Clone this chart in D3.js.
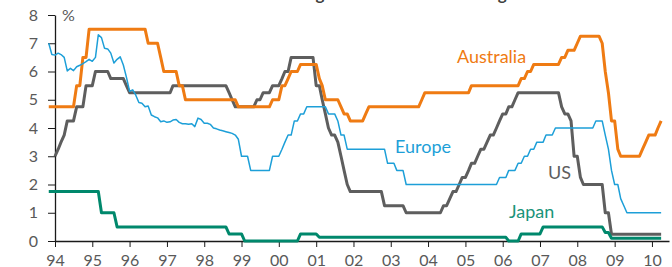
<!DOCTYPE html>
<meta charset="utf-8">
<style>
  body { margin: 0; background: #fff; }
  svg { display: block; }
  text { font-family: Lato, "Noto Sans", sans-serif; }
  .axis path, .axis line { stroke: #1a1a1a; }
  .axis text { fill: #595959; font-size: 16px; font-family: Lato, "Noto Sans", sans-serif; }
  .series { fill: none; stroke-linejoin: round; }
</style>
<script src="https://d3js.org/d3.v7.min.js"></script>
<svg width="672" height="267"></svg>
<script>
  // change points: [month, value] - value holds until the next entry
  var us = [
    ["1994-01", 3.0], ["1994-02", 3.25], ["1994-03", 3.5], ["1994-04", 3.75], ["1994-05", 4.25],
    ["1994-08", 4.75], ["1994-11", 5.5], ["1995-02", 6.0], ["1995-07", 5.75], ["1995-12", 5.5],
    ["1996-01", 5.25], ["1997-03", 5.5], ["1998-09", 5.25], ["1998-10", 5.0], ["1998-11", 4.75],
    ["1999-06", 5.0], ["1999-08", 5.25], ["1999-11", 5.5], ["2000-02", 5.75], ["2000-03", 6.0],
    ["2000-05", 6.5], ["2001-01", 5.5], ["2001-03", 5.0], ["2001-04", 4.5], ["2001-05", 4.0],
    ["2001-06", 3.75], ["2001-08", 3.5], ["2001-09", 3.0], ["2001-10", 2.5], ["2001-11", 2.0],
    ["2001-12", 1.75], ["2002-11", 1.25], ["2003-06", 1.0], ["2004-06", 1.25], ["2004-08", 1.5],
    ["2004-09", 1.75], ["2004-11", 2.0], ["2004-12", 2.25], ["2005-02", 2.5], ["2005-03", 2.75],
    ["2005-05", 3.0], ["2005-06", 3.25], ["2005-08", 3.5], ["2005-09", 3.75], ["2005-11", 4.0],
    ["2005-12", 4.25], ["2006-01", 4.5], ["2006-03", 4.75], ["2006-05", 5.0], ["2006-06", 5.25],
    ["2007-08", 4.75], ["2007-09", 4.5], ["2007-11", 4.25], ["2007-12", 3.0], ["2008-02", 2.25],
    ["2008-03", 2.0], ["2008-10", 1.0], ["2008-12", 0.24]
  ];

  var australia = [
    ["1993-11", 4.75], ["1994-08", 5.5], ["1994-10", 6.5], ["1994-12", 7.5], ["1996-07", 7.0],
    ["1996-11", 6.5], ["1996-12", 6.0], ["1997-05", 5.5], ["1997-07", 5.0], ["1998-12", 4.75],
    ["1999-11", 5.0], ["2000-02", 5.5], ["2000-04", 5.75], ["2000-05", 6.0], ["2000-08", 6.25],
    ["2001-02", 5.75], ["2001-03", 5.5], ["2001-04", 5.0], ["2001-09", 4.75], ["2001-10", 4.5],
    ["2001-12", 4.25], ["2002-05", 4.5], ["2002-06", 4.75], ["2003-11", 5.0], ["2003-12", 5.25],
    ["2005-03", 5.5], ["2006-07", 5.75], ["2006-09", 6.0], ["2006-11", 6.25], ["2007-08", 6.5],
    ["2007-10", 6.75], ["2008-01", 7.0], ["2008-02", 7.25], ["2008-09", 7.0], ["2008-10", 6.0],
    ["2008-11", 5.25], ["2008-12", 4.25], ["2009-02", 3.25], ["2009-03", 3.0], ["2009-10", 3.25],
    ["2009-11", 3.5], ["2009-12", 3.75], ["2010-03", 4.0], ["2010-04", 4.25]
  ];

  var europe = [
    ["1993-11", 7.0], ["1993-12", 6.6], ["1994-01", 6.58], ["1994-02", 6.65], ["1994-03", 6.6],
    ["1994-04", 6.5], ["1994-05", 6.02], ["1994-06", 6.11], ["1994-07", 6.03], ["1994-08", 6.17],
    ["1994-09", 6.22], ["1994-10", 6.28], ["1994-11", 6.35], ["1994-12", 6.43], ["1995-01", 6.36],
    ["1995-02", 6.5], ["1995-03", 7.3], ["1995-04", 7.2], ["1995-05", 6.82], ["1995-06", 6.8],
    ["1995-07", 6.65], ["1995-08", 6.3], ["1995-09", 6.43], ["1995-10", 6.52], ["1995-11", 6.23],
    ["1995-12", 5.8], ["1996-01", 5.3], ["1996-02", 5.35], ["1996-03", 5.17], ["1996-04", 4.9],
    ["1996-05", 4.88], ["1996-06", 4.75], ["1996-07", 4.78], ["1996-08", 4.46], ["1996-09", 4.4],
    ["1996-10", 4.36], ["1996-11", 4.22], ["1996-12", 4.25], ["1997-01", 4.2], ["1997-02", 4.22],
    ["1997-03", 4.28], ["1997-04", 4.3], ["1997-05", 4.2], ["1997-06", 4.15], ["1997-07", 4.15],
    ["1997-08", 4.13], ["1997-09", 4.15], ["1997-10", 4.05], ["1997-11", 4.35], ["1997-12", 4.3],
    ["1998-01", 4.17], ["1998-02", 4.17], ["1998-03", 4.13], ["1998-04", 4.0], ["1998-05", 3.97],
    ["1998-06", 3.93], ["1998-07", 3.9], ["1998-08", 3.87], ["1998-09", 3.84], ["1998-10", 3.81],
    ["1998-11", 3.75], ["1998-12", 3.6], ["1999-01", 3.0], ["1999-04", 2.5], ["1999-11", 3.0],
    ["2000-02", 3.25], ["2000-03", 3.5], ["2000-04", 3.75], ["2000-06", 4.25], ["2000-08", 4.5],
    ["2000-10", 4.75], ["2001-05", 4.5], ["2001-08", 4.25], ["2001-09", 3.75], ["2001-11", 3.25],
    ["2002-12", 2.75], ["2003-03", 2.5], ["2003-06", 2.0], ["2005-12", 2.25], ["2006-03", 2.5],
    ["2006-06", 2.75], ["2006-08", 3.0], ["2006-10", 3.25], ["2006-12", 3.5], ["2007-03", 3.75],
    ["2007-06", 4.0], ["2008-07", 4.25], ["2008-10", 3.75], ["2008-11", 3.25], ["2008-12", 2.5],
    ["2009-01", 2.0], ["2009-03", 1.5], ["2009-04", 1.25], ["2009-05", 1.0]
  ];

  var japan = [
    ["1993-11", 1.75], ["1995-04", 1.0], ["1995-09", 0.5], ["1998-09", 0.25], ["1999-02", 0.0],
    ["2000-08", 0.25], ["2001-02", 0.13], ["2006-03", 0.0], ["2006-07", 0.25], ["2007-02", 0.5],
    ["2008-10", 0.3], ["2008-12", 0.1]
  ];

  var lastMonth = "2010-04";
  var yTicks = [0, 1, 2, 3, 4, 5, 6, 7, 8];

  var series = [
    { name: "US", data: us, color: "#5e5e5e", width: 3 },
    { name: "Japan", data: japan, color: "#00886c", width: 3 },
    { name: "Australia", data: australia, color: "#ef7b13", width: 3 },
    { name: "Europe", data: europe, color: "#1d9fd8", width: 1.5 }
  ];

  var parse = d3.timeParse("%Y-%m");
  var svg = d3.select("svg");

  var x = d3.scaleTime()
    .domain([new Date(1994, 0, 1), new Date(2010, 5, 17)])
    .range([55, 669]);
  var y = d3.scaleLinear().domain([0, 8]).range([241, 15]);

  // hold each value flat until the month before the next change
  function toPoints(d) {
    var pts = [];
    d.forEach(function(p, i) {
      var t = parse(p[0]);
      if (i > 0) {
        var hold = d3.timeMonth.offset(t, -1);
        if (hold > pts[pts.length - 1][0]) pts.push([hold, d[i - 1][1]]);
      }
      pts.push([t, p[1]]);
    });
    var end = parse(lastMonth);
    if (end > pts[pts.length - 1][0]) pts.push([end, d[d.length - 1][1]]);
    return pts;
  }

  var line = d3.line()
    .x(function(p) { return x(p[0]); })
    .y(function(p) { return y(p[1]); });

  // title, only its descenders reach into the picture
  var title = svg.append("text")
    .attr("y", -0.5)
    .style("font-size", "17px")
    .style("font-weight", "bold")
    .style("fill", "#404040")
    .text("Central Bank Targets for Selected Overnight Rates");
  var tn = title.node(), gi = tn.textContent.indexOf("g");
  var gx = tn.getStartPositionOfChar(gi).x + tn.getExtentOfChar(gi).width / 2;
  title.attr("x", 320 - gx);

  svg.append("g")
    .attr("class", "axis")
    .attr("transform", "translate(0,241)")
    .call(d3.axisBottom(x).ticks(d3.timeYear.every(1)).tickFormat(d3.timeFormat("%y"))
      .tickSize(6).tickPadding(8).tickSizeOuter(0))
    .call(function(g) { g.select(".domain").attr("stroke-width", 1.3); });

  svg.append("g")
    .attr("class", "axis")
    .attr("transform", "translate(55,0)")
    .call(d3.axisLeft(y).tickValues(yTicks).tickSize(7).tickPadding(10).tickSizeOuter(0))
    .call(function(g) { g.select(".domain").attr("stroke-width", 1.3); });

  svg.append("text")
    .attr("x", 62).attr("y", 21)
    .style("font-size", "16px").style("fill", "#595959")
    .text("%");

  svg.selectAll("path.series")
    .data(series)
    .enter().append("path")
    .attr("class", "series")
    .attr("stroke", function(s) { return s.color; })
    .attr("stroke-width", function(s) { return s.width; })
    .attr("d", function(s) { return line(toPoints(s.data)); });

  var labels = [
    { text: "Australia", x: 457, y: 63, color: "#ef7b13" },
    { text: "Europe", x: 395, y: 153, color: "#1d9fd8" },
    { text: "US", x: 548, y: 179, color: "#5e5e5e" },
    { text: "Japan", x: 509, y: 218, color: "#1a947a" }
  ];
  svg.selectAll("text.lab")
    .data(labels)
    .enter().append("text")
    .attr("class", "lab")
    .attr("x", function(d) { return d.x; })
    .attr("y", function(d) { return d.y; })
    .style("font-size", "18px")
    .style("fill", function(d) { return d.color; })
    .text(function(d) { return d.text; });
</script>
